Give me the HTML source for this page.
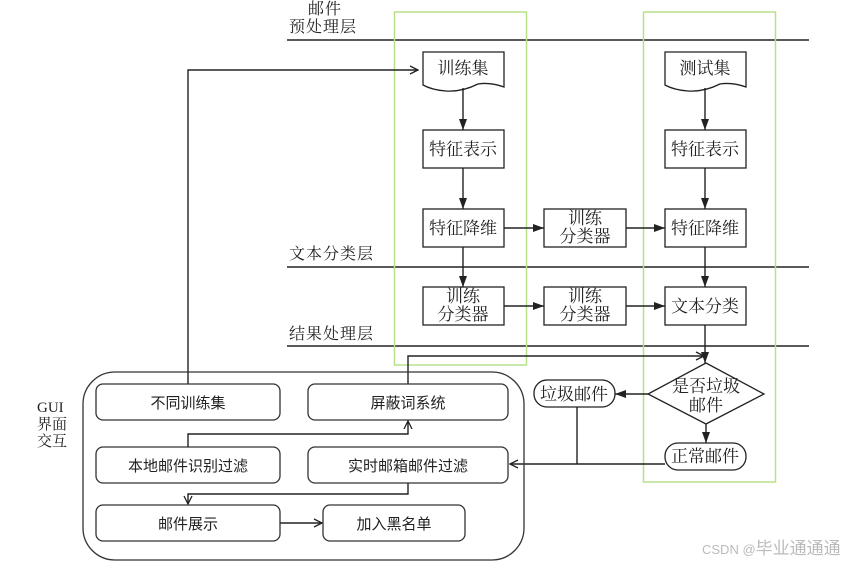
<!DOCTYPE html>
<html><head><meta charset="utf-8"><style>
html,body{margin:0;padding:0;background:#fff;}
svg{display:block;font-family:"Liberation Serif","Noto Serif CJK SC","Noto Sans CJK SC",serif;}
.s{font-family:"Liberation Sans","Noto Sans CJK SC",sans-serif;}
</style></head><body>
<svg width="846" height="564" viewBox="0 0 846 564" xmlns="http://www.w3.org/2000/svg">
<defs>
<marker id="f" markerWidth="12" markerHeight="10" refX="11" refY="5" orient="auto" markerUnits="userSpaceOnUse"><path d="M0,1 L11,5 L0,9 z" fill="#222"/></marker>
<marker id="o" markerWidth="10" markerHeight="10" refX="9" refY="5" orient="auto" markerUnits="userSpaceOnUse"><path d="M1,1 L9,5 L1,9" fill="none" stroke="#222" stroke-width="1.3"/></marker>
</defs>
<g fill="none" stroke="#222" stroke-width="1.5">
<line x1="287" y1="40" x2="809" y2="40"/>
<line x1="287" y1="267" x2="809" y2="267"/>
<line x1="287" y1="346" x2="809" y2="346"/>
</g>
<rect x="394.5" y="12" width="132" height="353" fill="none" stroke="#b8e08a" stroke-width="1.5"/>
<rect x="643.5" y="12" width="132" height="470" fill="none" stroke="#b8e08a" stroke-width="1.5"/>
<g font-size="16" fill="#222" letter-spacing="1">
<text x="308" y="14">邮件</text>
<text x="289" y="32">预处理层</text>
<text x="289" y="259">文本分类层</text>
<text x="289" y="339">结果处理层</text>
</g>
<g fill="#fff" stroke="#222" stroke-width="1.3">
<path d="M423,52 H504 V87 Q490,82 478,84 Q462,92 446,91 Q432,90 423,85 Z"/>
<path d="M665,52 H746 V87 Q732,82 720,84 Q704,92 688,91 Q674,90 665,85 Z"/>
<rect x="423" y="130" width="81" height="38"/>
<rect x="423" y="209" width="81" height="38"/>
<rect x="423" y="287" width="81" height="38"/>
<rect x="544" y="209" width="82" height="38"/>
<rect x="544" y="287" width="82" height="38"/>
<rect x="665" y="130" width="81" height="38"/>
<rect x="665" y="209" width="81" height="38"/>
<rect x="665" y="287" width="81" height="38"/>
<path d="M706,363 L764,394 L706,424 L648,394 Z"/>
<rect x="534" y="380" width="81" height="27" rx="13"/>
<rect x="665" y="443" width="81" height="27" rx="13"/>
</g>
<g font-size="17" fill="#222" text-anchor="middle">
<text x="463" y="74">训练集</text>
<text x="705" y="74">测试集</text>
<text x="463" y="155">特征表示</text>
<text x="705" y="155">特征表示</text>
<text x="463" y="234">特征降维</text>
<text x="705" y="234">特征降维</text>
<text x="463" y="302">训练</text><text x="463" y="320">分类器</text>
<text x="585" y="224">训练</text><text x="585" y="242">分类器</text>
<text x="585" y="302">训练</text><text x="585" y="320">分类器</text>
<text x="705" y="312">文本分类</text>
<text x="706" y="392">是否垃圾</text><text x="706" y="411">邮件</text>
<text x="574" y="400">垃圾邮件</text>
<text x="705" y="462">正常邮件</text>
</g>
<g fill="none" stroke="#222" stroke-width="1.4">
<line x1="463" y1="88" x2="463" y2="130" marker-end="url(#f)"/>
<line x1="463" y1="168" x2="463" y2="209" marker-end="url(#f)"/>
<line x1="463" y1="247" x2="463" y2="287" marker-end="url(#f)"/>
<line x1="705" y1="88" x2="705" y2="130" marker-end="url(#f)"/>
<line x1="705" y1="168" x2="705" y2="209" marker-end="url(#f)"/>
<line x1="705" y1="247" x2="705" y2="287" marker-end="url(#f)"/>
<line x1="705" y1="325" x2="705" y2="363" marker-end="url(#f)"/>
<line x1="504" y1="228" x2="544" y2="228" marker-end="url(#f)"/>
<line x1="626" y1="228" x2="665" y2="228" marker-end="url(#f)"/>
<line x1="504" y1="306" x2="544" y2="306" marker-end="url(#f)"/>
<line x1="626" y1="306" x2="665" y2="306" marker-end="url(#f)"/>
<line x1="648" y1="394" x2="615" y2="394" marker-end="url(#f)"/>
<line x1="706" y1="424" x2="706" y2="443" marker-end="url(#f)"/>
<polyline points="188,384 188,70 418,70" marker-end="url(#o)"/>
<polyline points="408,384 408,356 704,356" marker-end="url(#o)"/>
<line x1="577" y1="407" x2="577" y2="464"/>
<polyline points="665,464 510,464" marker-end="url(#o)"/>
<polyline points="188,447 188,434 408,434 408,421" marker-end="url(#o)"/>
<polyline points="408,483 408,494 188,494 188,504" marker-end="url(#o)"/>
<line x1="280" y1="523" x2="322" y2="523" marker-end="url(#o)"/>
</g>
<g fill="none" stroke="#333" stroke-width="1.3">
<rect x="83" y="372" width="441" height="188" rx="32"/>
<rect x="96" y="384" width="184" height="36" rx="7"/>
<rect x="308" y="384" width="200" height="36" rx="7"/>
<rect x="96" y="447" width="184" height="36" rx="7"/>
<rect x="308" y="447" width="200" height="36" rx="7"/>
<rect x="96" y="505" width="184" height="36" rx="7"/>
<rect x="323" y="505" width="142" height="36" rx="7"/>
</g>
<g class="s" font-size="15" fill="#222" text-anchor="middle">
<text x="188" y="408">不同训练集</text>
<text x="408" y="408">屏蔽词系统</text>
<text x="188" y="471">本地邮件识别过滤</text>
<text x="408" y="471">实时邮箱邮件过滤</text>
<text x="188" y="529">邮件展示</text>
<text x="394" y="529">加入黑名单</text>
</g>
<g font-size="15" fill="#222">
<text x="37" y="412">GUI</text>
<text x="37" y="429">界面</text>
<text x="37" y="446">交互</text>
</g>
<text class="s" x="702" y="554" font-size="13" fill="#bbb">CSDN @<tspan font-size="17">毕业通通通</tspan></text>
</svg>
</body></html>
